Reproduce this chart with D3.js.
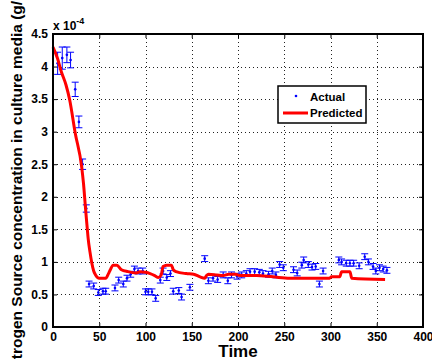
<!DOCTYPE html>
<html>
<head>
<meta charset="utf-8">
<script src="https://cdn.jsdelivr.net/npm/d3@7/dist/d3.min.js"></script>
<style>
body { margin: 0; background: #fff; }
svg { display: block; font-family: "Liberation Sans", Arial, Helvetica, sans-serif; font-weight: bold; }
</style>
</head>
<body>
<div id="chart"></div>
<script>
// concentrations are in units of 1e-4 (see the "x 10^-4" label)
var actualTime = [5, 10, 15, 19, 24, 28, 32, 36, 39, 44, 49, 54, 57, 67, 71, 76, 80, 84, 88, 92,
    97, 100, 103, 107, 111, 116, 119, 123, 127, 130, 136, 139, 148, 164, 168, 173, 178, 184, 189, 193,
    199, 204, 209, 213, 218, 223, 227, 233, 237, 241, 245, 249, 260, 264, 269, 271, 276, 280, 284, 288,
    292, 309, 312, 317, 321, 325, 331, 337, 341, 346, 349, 353, 357, 361];
var actualValue = [4.05, 4.13, 4.18, 4.1, 3.65, 3.15, 2.5, 1.82, 0.66, 0.63, 0.53, 0.55, 0.55, 0.6, 0.72, 0.66, 0.75, 0.81, 0.89, 0.86,
    0.86, 0.54, 0.54, 0.54, 0.44, 0.72, 0.86, 0.76, 0.82, 0.55, 0.56, 0.46, 0.61, 1.05, 0.71, 0.75, 0.73, 0.8, 0.71, 0.8,
    0.78, 0.8, 0.82, 0.85, 0.85, 0.84, 0.82, 0.81, 0.86, 0.8, 0.96, 0.91, 0.88, 0.83, 0.95, 1.03, 0.96, 0.92, 0.93, 0.66,
    0.86, 1.03, 1.0, 0.98, 0.98, 0.98, 0.94, 1.08, 1.0, 0.93, 0.86, 0.91, 0.89, 0.87];
var actualError = [0.17, 0.17, 0.12, 0.12, 0.11, 0.09, 0.08, 0.056, 0.045, 0.045, 0.045, 0.045, 0.045, 0.045, 0.045, 0.045, 0.045, 0.045, 0.045, 0.045,
    0.045, 0.045, 0.045, 0.045, 0.045, 0.045, 0.045, 0.045, 0.045, 0.045, 0.045, 0.045, 0.045, 0.045, 0.045, 0.045, 0.045, 0.045, 0.045, 0.045,
    0.045, 0.045, 0.045, 0.045, 0.045, 0.045, 0.045, 0.045, 0.045, 0.045, 0.045, 0.045, 0.045, 0.045, 0.045, 0.045, 0.045, 0.045, 0.045, 0.045,
    0.045, 0.045, 0.045, 0.045, 0.045, 0.045, 0.045, 0.045, 0.045, 0.045, 0.045, 0.045, 0.045, 0.045];

var predTime = [0, 5, 9, 14, 18, 24, 31, 33, 35, 36, 37, 38, 40, 42, 44, 46, 50, 57, 60, 62,
    65, 69, 74, 81, 90, 94, 100, 105, 110, 114, 117, 119, 123, 128, 130, 133, 144, 152, 159, 164,
    166, 168, 177, 184, 190, 197, 202, 220, 238, 256, 299, 301, 310, 312, 321, 323, 359];
var predValue = [4.3, 4.12, 3.92, 3.72, 3.49, 2.98, 2.46, 2.2, 1.85, 1.68, 1.52, 1.36, 1.15, 0.98, 0.86, 0.8, 0.75, 0.75, 0.82, 0.88,
    0.95, 0.95, 0.88, 0.85, 0.83, 0.85, 0.84, 0.82, 0.79, 0.76, 0.8, 0.93, 0.95, 0.95, 0.88, 0.85, 0.82, 0.81, 0.77, 0.75,
    0.79, 0.81, 0.8, 0.79, 0.81, 0.81, 0.79, 0.79, 0.77, 0.75, 0.75, 0.77, 0.77, 0.85, 0.85, 0.75, 0.73];

var xTicks = [0, 50, 100, 150, 200, 250, 300, 350, 400];
var yTicks = [0, 0.5, 1, 1.5, 2, 2.5, 3, 3.5, 4, 4.5];

// set the dimensions and margins of the graph
var margin = { top: 34, right: 9, bottom: 33, left: 53 },
    width = 432 - margin.left - margin.right,
    height = 360 - margin.top - margin.bottom;

var root = d3.select("#chart").append("svg")
    .attr("width", 432)
    .attr("height", 360);

var svg = root.append("g")
    .attr("transform", "translate(" + margin.left + "," + margin.top + ")");

var x = d3.scaleLinear().domain([0, 400]).range([0, width]);
var y = d3.scaleLinear().domain([0, 4.5]).range([height, 0]);

// dotted grid
svg.append("g").selectAll("line")
    .data(xTicks.slice(1, -1))
    .enter().append("line")
    .attr("x1", function (d) { return Math.round(x(d)) + 0.5; })
    .attr("x2", function (d) { return Math.round(x(d)) + 0.5; })
    .attr("y1", 0).attr("y2", height)
    .attr("stroke", "#222").attr("stroke-dasharray", "1,3");
svg.append("g").selectAll("line")
    .data(yTicks.slice(1, -1))
    .enter().append("line")
    .attr("y1", function (d) { return Math.round(y(d)) + 0.5; })
    .attr("y2", function (d) { return Math.round(y(d)) + 0.5; })
    .attr("x1", 0).attr("x2", width)
    .attr("stroke", "#222").attr("stroke-dasharray", "1,3");

// axes with inward ticks
function styleAxis(g) {
    g.select(".domain").remove();
    g.selectAll("line").attr("stroke", "#000");
    g.selectAll("text").attr("font-size", 12).attr("font-weight", "bold")
        .attr("font-family", "'Liberation Sans', Arial, sans-serif").attr("fill", "#000");
}
svg.append("g")
    .attr("transform", "translate(0," + height + ")")
    .call(d3.axisBottom(x).tickValues(xTicks).tickSize(-4).tickPadding(5))
    .call(styleAxis);
svg.append("g")
    .call(d3.axisLeft(y).tickValues(yTicks).tickSize(-4).tickPadding(5)
        .tickFormat(function (d) { return d; }))
    .call(styleAxis);
svg.append("g")
    .call(d3.axisTop(x).tickValues(xTicks).tickSize(-4).tickFormat(""))
    .call(styleAxis);
svg.append("g")
    .attr("transform", "translate(" + width + ",0)")
    .call(d3.axisRight(y).tickValues(yTicks).tickSize(-4).tickFormat(""))
    .call(styleAxis);

// error bars for the measured data
var bars = svg.append("g").attr("stroke", "#0000ff").attr("stroke-width", 1);
actualTime.forEach(function (t, i) {
    var cx = x(t), top = y(actualValue[i] + actualError[i]), bot = y(actualValue[i] - actualError[i]);
    bars.append("line").attr("x1", cx).attr("x2", cx).attr("y1", top).attr("y2", bot);
    bars.append("line").attr("x1", cx - 3.5).attr("x2", cx + 3.5).attr("y1", top).attr("y2", top);
    bars.append("line").attr("x1", cx - 3.5).attr("x2", cx + 3.5).attr("y1", bot).attr("y2", bot);
});
svg.append("g").selectAll("circle")
    .data(actualTime)
    .enter().append("circle")
    .attr("cx", function (d) { return x(d); })
    .attr("cy", function (d, i) { return y(actualValue[i]); })
    .attr("r", 1.3)
    .attr("fill", "#0000ff");

// predicted curve
var line = d3.line()
    .x(function (d) { return x(d); })
    .y(function (d, i) { return y(predValue[i]); })
    .curve(d3.curveMonotoneX);
svg.append("path")
    .datum(predTime)
    .attr("d", line)
    .attr("fill", "none")
    .attr("stroke", "#ff0000")
    .attr("stroke-width", 3);

// frame
svg.append("rect")
    .attr("width", width).attr("height", height)
    .attr("fill", "none").attr("stroke", "#000").attr("stroke-width", 2);

// exponent label
var expo = svg.append("text").attr("x", 0).attr("y", -4).attr("font-size", 12);
expo.append("tspan").text("x 10");
expo.append("tspan").attr("dy", -6).attr("font-size", 9).text("-4");

// axis titles
svg.append("text")
    .attr("x", width / 2).attr("y", height + 30)
    .attr("text-anchor", "middle").attr("font-size", 17)
    .text("Time");
root.append("text")
    .attr("transform", "translate(22," + (margin.top + height / 2) + ") rotate(-90)")
    .attr("text-anchor", "middle").attr("font-size", 15.5)
    .text("Nitrogen Source concentration in culture media (g/L)");

// legend
var legend = root.append("g").attr("transform", "translate(278,86)");
legend.append("rect").attr("width", 88).attr("height", 37)
    .attr("fill", "#fff").attr("stroke", "#000").attr("stroke-width", 1.5);
legend.append("circle").attr("cx", 18).attr("cy", 10).attr("r", 1.3).attr("fill", "#0000ff");
legend.append("line").attr("x1", 5).attr("x2", 30).attr("y1", 27).attr("y2", 27)
    .attr("stroke", "#ff0000").attr("stroke-width", 3);
legend.append("text").attr("x", 32).attr("y", 14.5).attr("font-size", 11.5).text("Actual");
legend.append("text").attr("x", 32).attr("y", 31).attr("font-size", 11.5).text("Predicted");
</script>
</body>
</html>
